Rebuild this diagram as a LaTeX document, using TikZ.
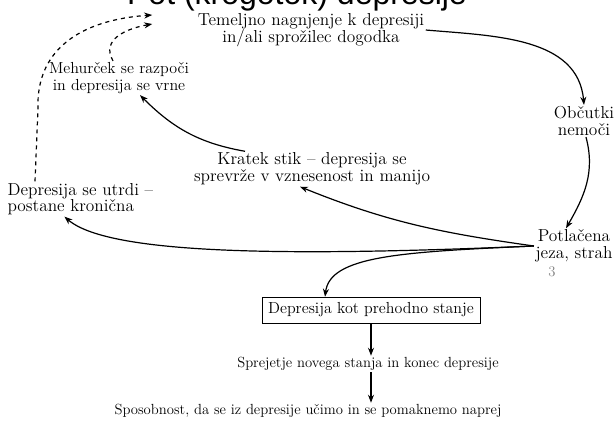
\documentclass[tikz,border=0pt]{standalone}
\usepackage{fontspec}
\newfontfamily\titlefont{Liberation Sans}
\usetikzlibrary{arrows.meta,calc}
\newcommand\bigtxt{\fontsize{13}{12.5}\selectfont\addfontfeatures{LetterSpace=8}}
\newcommand\midtxt{\fontsize{12}{12.5}\selectfont\addfontfeatures{LetterSpace=8}}
\newcommand\smalltxt{\fontsize{11}{13}\selectfont\addfontfeatures{LetterSpace=8}}

\begin{document}
\begin{tikzpicture}[x=0.75pt, y=-0.75pt, font=\bigtxt,
  lab/.style={align=center, inner sep=1pt},
  arr/.style={-{Stealth[length=6pt,width=4.5pt]}, line width=0.9pt},
  dsh/.style={arr, dash pattern=on 3pt off 3pt}]
  \useasboundingbox (0,0) rectangle (615,443);
  \node[anchor=base, font=\titlefont\fontsize{24}{24}\selectfont] (naslov) at (297,4) {Pot (krogotok) depresije};
  \node[lab] (nagnjenje) at (311,30) {Temeljno nagnjenje k depresiji\\in/ali sprožilec dogodka};
  \node[lab, font=\midtxt] (mehurcek) at (119,78) {Mehurček se razpoči\\in depresija se vrne};
  \node[lab] (obcutki) at (584,121) {Občutki\\nemoči};
  \node[lab] (potlacena) at (574,246) {Potlačena\\jeza, strah};
  \node[lab] (kratek) at (312,169) {Kratek stik – depresija se\\sprevrže v vznesenost in manijo};
  \node[lab, align=left, anchor=west] (utrdi) at (6,199) {Depresija se utrdi –\\postane kronična};
  \node[lab, draw, font=\midtxt, minimum width=163.5pt, minimum height=19.5pt] (prehodno) at (371,310) {Depresija kot prehodno stanje};
  \node[lab, font=\smalltxt] (sprejetje) at (368,364) {Sprejetje novega stanja in konec depresije};
  \node[lab, font=\smalltxt] (sposobnost) at (308,411) {Sposobnost, da se iz depresije učimo in se pomaknemo naprej};
  \node[font=\fontsize{11}{11}\selectfont, text=gray] (tri) at (552,272) {3};
  \draw[arr] (nagnjenje.east) to[out=-5, in=95] (obcutki.north);
  \draw[arr] ($(obcutki.south)+(2,0)$) to[out=-75, in=60] ($(potlacena.north)+(-8,0)$);
  \draw[arr] (potlacena.west) to[out=172, in=-22] ($(kratek.south)+(-12,0)$);
  \draw[arr] (potlacena.west) .. controls (300,256) and (110,256) .. ($(utrdi.south)+(-16,0)$);
  \draw[arr] (potlacena.west) .. controls (400,252) and (330,256) .. ($(prehodno.north)+(-46,0)$);
  \draw[arr] ($(kratek.north)+(-67,0)$) to[out=170, in=-45] ($(mehurcek.south)+(21,0)$);
  \draw[arr] (prehodno) -- (sprejetje.north -| prehodno);
  \draw[arr] (sprejetje.south -| prehodno) -- (sposobnost.north -| prehodno);
  \draw[dsh] ($(utrdi.north west)+(29,0)$) -- ++(3,-73) .. controls (36,50) and (80,20) .. ($(nagnjenje.west)+(-44,-15)$);
  \draw[dsh] ($(mehurcek.north)+(-6,0)$) to[out=120, in=190, looseness=1.2] ($(nagnjenje.west)+(-44,-6)$);
\end{tikzpicture}
\end{document}
